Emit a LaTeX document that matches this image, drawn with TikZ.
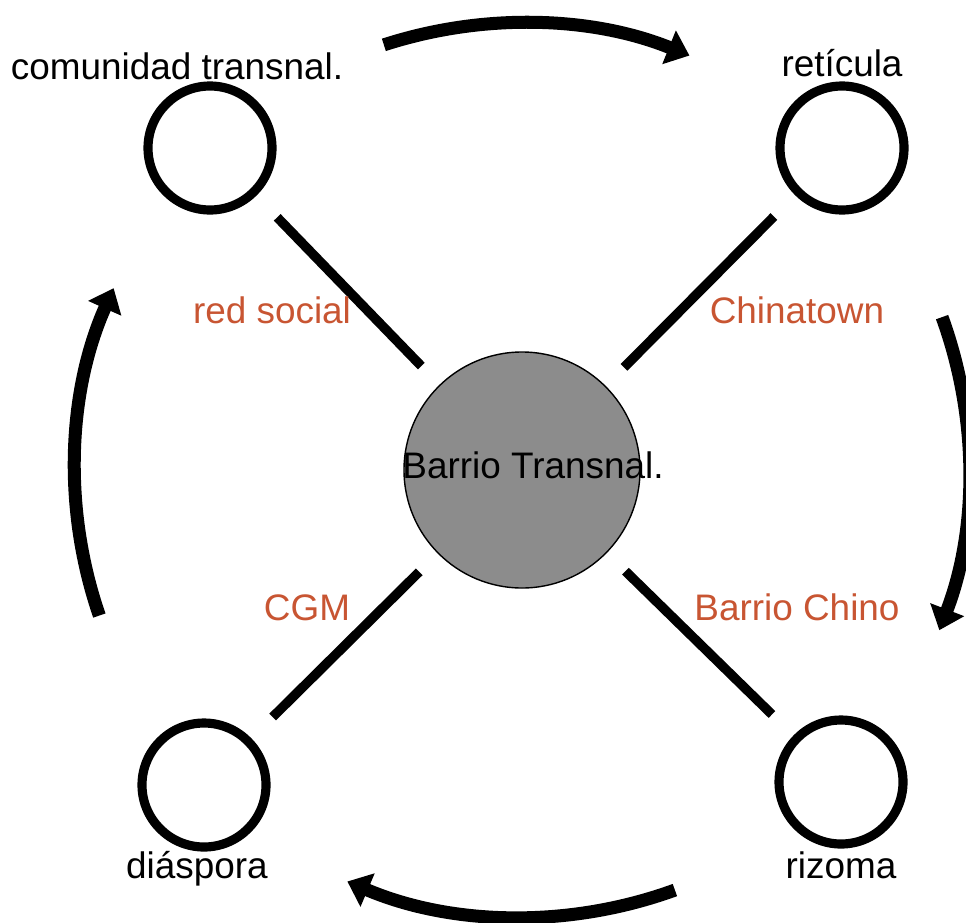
\documentclass[tikz,border=0pt]{standalone}
\usepackage{fontspec}
\setmainfont{Liberation Sans}
\usetikzlibrary{arrows.meta}
\definecolor{rojizo}{RGB}{200,85,50}
\tikzset{
  ring/.style={circle, draw, line width=5.2pt, minimum size=24.8mm, inner sep=0pt},
  hub/.style={circle, draw, line width=0.8pt, fill=black!45, minimum size=47.2mm, inner sep=0pt},
  spoke/.style={line width=5.4pt, shorten <=5.2mm, shorten >=6mm},
  ciclo/.style={line width=7.4pt, -{Triangle[length=4.4mm,width=7mm]}},
  etiqueta/.style={font=\fontsize{21}{25}\selectfont, anchor=base},
  tipo/.style={etiqueta, text=rojizo}
}
\begin{document}
\begin{tikzpicture}[x=0.2mm, y=0.2mm]
\def\r{447}
\useasboundingbox (0,0) rectangle (966,-922);

\node[hub] (barrio) at (522,-470) {};
\node[etiqueta] (tbarrio) at (533,-478) {Barrio Transnal.};

\node[ring] (comunidad) at (210,-148) {};
\node[ring] (reticula) at (842,-148) {};
\node[ring] (diaspora) at (204,-785) {};
\node[ring] (rizoma) at (841,-782) {};

\node[etiqueta] (tcomunidad) at (177,-79) {comunidad transnal.};
\node[etiqueta] (treticula) at (842,-76) {retícula};
\node[etiqueta] (tdiaspora) at (197,-878) {diáspora};
\node[etiqueta] (trizoma) at (841,-878) {rizoma};

\draw[spoke] (barrio) -- (comunidad);
\draw[spoke] (barrio) -- (reticula);
\draw[spoke] (barrio) -- (diaspora);
\draw[spoke] (barrio) -- (rizoma);

\node[tipo] (redsocial) at (272,-323) {red social};
\node[tipo] (chinatown) at (797,-323) {Chinatown};
\node[tipo] (cgm) at (307,-620) {CGM};
\node[tipo] (barriochino) at (797,-620) {Barrio Chino};

% flechas del ciclo
\draw[ciclo] ([shift={(108:\r)}]barrio.center) arc[start angle=108, end angle=68, radius=\r];
\draw[ciclo] ([shift={(20:\r)}]barrio.center) arc[start angle=20, end angle=-21, radius=\r];
\draw[ciclo] ([shift={(-70:\r)}]barrio.center) arc[start angle=-70, end angle=-113, radius=\r];
\draw[ciclo] ([shift={(199:\r)}]barrio.center) arc[start angle=199, end angle=156, radius=\r];

\end{tikzpicture}
\end{document}
